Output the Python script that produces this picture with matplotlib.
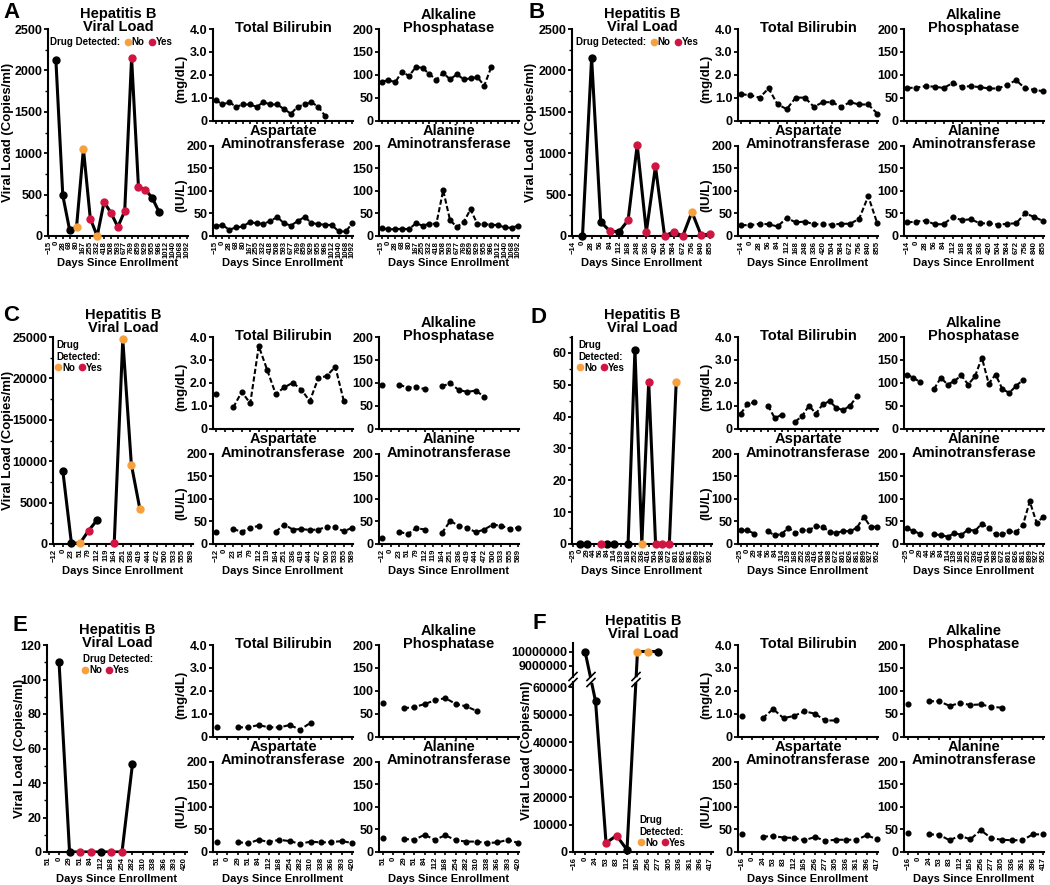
import numpy as np
import matplotlib
matplotlib.use("Agg")
import matplotlib.pyplot as plt
from matplotlib.lines import Line2D
from matplotlib.ticker import MultipleLocator
from matplotlib.transforms import IdentityTransform

plt.rcParams['font.family'] = ['Liberation Sans', 'DejaVu Sans']
plt.rcParams['font.weight'] = 'bold'
plt.rcParams['axes.labelweight'] = 'bold'
plt.rcParams['axes.linewidth'] = 1.5

W, H = 1050, 885
nan = np.nan
ORANGE = '#F8A13C'
RED = '#D11543'
COLORS = {'k': 'black', 'n': ORANGE, 'y': RED}

# ---- Panel A ----
days_a = [-15, 0, 28, 68, 80, 167, 255, 332, 418, 508, 593, 677, 769, 859, 929, 955, 986, 1012, 1040, 1068, 1092]
vl_a = [nan, 2120, 490, 70, 110, 1050, 210, 0, 410, 280, 110, 300, 2150, 590, 560, 460, 290, nan, nan, nan, nan]
drug_a = ['', 'k', 'k', 'k', 'n', 'n', 'y', 'n', 'y', 'y', 'y', 'y', 'y', 'y', 'y', 'k', 'k', '', '', '', '']
bili_a = [0.9, 0.7, 0.8, 0.6, 0.7, 0.7, 0.6, 0.8, 0.7, 0.7, 0.5, 0.3, 0.6, 0.7, 0.8, 0.6, 0.2, nan, nan, nan, nan]
alp_a = [85, 88, 84, 107, 97, 117, 115, 101, 89, 104, 90, 101, 90, 92, 95, 76, 116, nan, nan, nan, nan]
ast_a = [22, 24, 14, 19, 21, 31, 28, 27, 33, 42, 28, 23, 33, 42, 29, 26, 25, 24, 10, 10, 28]
alt_a = [17, 15, 15, 16, 15, 28, 23, 27, 27, 101, 35, 20, 31, 59, 26, 26, 25, 24, 19, 18, 23]

# ---- Panel B ----
days_b = [-14, 0, 28, 56, 84, 112, 168, 248, 336, 420, 504, 584, 672, 756, 840, 855]
vl_b = [nan, 0, 2150, 170, 60, 50, 190, 1100, 50, 840, 0, 50, 0, 290, 10, 25]
drug_b = ['', 'k', 'k', 'k', 'y', 'k', 'y', 'y', 'y', 'y', 'y', 'y', 'y', 'n', 'y', 'y']
bili_b = [1.15, 1.1, 1.0, 1.4, 0.7, 0.5, 1.0, 1.0, 0.6, 0.8, 0.8, 0.6, 0.8, 0.7, 0.7, 0.3]
alp_b = [71, 72, 75, 74, 71, 82, 74, 75, 73, 70, 70, 78, 88, 70, 67, 64]
ast_b = [24, 24, 27, 26, 21, 40, 30, 32, 26, 26, 25, 27, 27, 38, 88, 28]
alt_b = [30, 32, 34, 26, 26, 42, 35, 37, 28, 28, 25, 27, 28, 50, 42, 33]

# ---- Panel C ----
days_c = [-12, 0, 23, 51, 79, 112, 119, 164, 251, 336, 419, 444, 472, 500, 533, 555, 589]
vl_c = [nan, 8800, 100, 100, 1600, 2900, nan, 100, 24700, 9600, 4200, nan, nan, nan, nan, nan, nan]
drug_c = ['', 'k', 'k', 'n', 'y', 'k', '', 'y', 'n', 'n', 'n', '', '', '', '', '', '']
bili_c = [1.5, nan, 0.92, 1.6, 1.1, 3.6, 2.55, 1.5, 1.8, 2.0, 1.7, 1.2, 2.2, 2.3, 2.7, 1.2, nan]
alp_c = [94, nan, 96, 89, 91, 86, nan, 92, 99, 84, 80, 83, 69, nan, nan, nan, nan]
ast_c = [26, nan, 33, 27, 36, 40, nan, 27, 43, 32, 33, 31, 32, 38, 37, 28, 36]
alt_c = [14, nan, 27, 22, 35, 32, nan, 24, 51, 40, 36, 26, 32, 43, 40, 34, 36]

# ---- Panel D ----
days_d = [-25, 0, 29, 44, 56, 84, 114, 139, 168, 252, 336, 416, 504, 588, 672, 801, 826, 861, 899, 927, 952]
vl_d = [nan, 0, 0, nan, 0, 0, 0, nan, 0, 61, 0, 51, 0, 0, 0, 51, nan, nan, nan, nan, nan]
drug_d = ['', 'k', 'k', '', 'y', 'k', 'k', '', 'k', 'k', 'n', 'y', 'y', 'y', 'y', 'n', '', '', '', '', '']
bili_d = [0.65, 1.05, 1.15, nan, 1.0, 0.45, 0.6, nan, 0.3, 0.55, 1.0, 0.65, 1.05, 1.2, 0.9, 0.8, 1.0, 1.4, nan, nan, nan]
alp_d = [118, 111, 101, nan, 86, 111, 96, 104, 116, 96, 114, 155, 98, 118, 86, 78, 93, 106, nan, nan, nan]
ast_d = [30, 30, 23, nan, 28, 19, 22, 36, 24, 30, 31, 39, 38, 27, 24, 29, 28, 36, 60, 38, 38]
alt_d = [35, 29, 22, nan, 21, 20, 16, 24, 20, 32, 29, 45, 35, 21, 21, 28, 26, 42, 94, 47, 60]

# ---- Panel E ----
days_e = [51, 0, 29, 51, 84, 112, 168, 254, 282, 310, 338, 366, 393, 420]
vl_e = [nan, 110, 0, 0, 0, 0, 0, 0, 51, nan, nan, nan, nan, nan]
drug_e = ['', 'k', 'k', 'y', 'y', 'k', 'y', 'y', 'k', '', '', '', '', '']
bili_e = [0.4, nan, 0.4, 0.4, 0.5, 0.4, 0.4, 0.5, 0.3, 0.6, nan, nan, nan, nan]
alp_e = [73, nan, 62, 64, 71, 79, 84, 71, 66, 56, nan, nan, nan, nan]
ast_e = [23, nan, 22, 19, 27, 22, 27, 24, 18, 23, 21, 22, 24, 20]
alt_e = [30, nan, 29, 27, 38, 27, 37, 26, 23, 23, 20, 21, 27, 20]

# ---- Panel F ----
days_f = [-16, 0, 24, 53, 83, 112, 165, 256, 277, 305, 336, 361, 396, 417]
vl_f = [nan, 10000000, 55000, 3300, 6000, 800, 10000000, 10000000, 10000000, nan, nan, nan, nan, nan]
drug_f = ['', 'k', 'k', 'y', 'y', 'k', 'n', 'n', 'k', '', '', '', '', '']
bili_f = [0.9, nan, 0.8, 1.2, 0.8, 0.9, 1.1, 1.0, 0.7, 0.7, nan, nan, nan, nan]
alp_f = [70, nan, 77, 77, 67, 73, 69, 70, 65, 63, nan, nan, nan, nan]
ast_f = [39, nan, 34, 35, 32, 31, 26, 33, 25, 27, 27, 27, 37, 28]
alt_f = [43, nan, 39, 38, 26, 36, 28, 48, 31, 27, 26, 26, 39, 39]

LAB_TITLES = ['Total Bilirubin', 'Alkaline\nPhosphatase',
              'Aspartate\nAminotransferase', 'Alanine\nAminotransferase']

fig = plt.figure(figsize=(W / 100, H / 100), dpi=100)


def add_ax(left, top, width, height):
    ax = fig.add_axes([left / W, 1 - (top + height) / H, width / W, height / H])
    ax.spines['top'].set_visible(False)
    ax.spines['right'].set_visible(False)
    ax.tick_params(axis='y', labelsize=9, length=3, width=1.3, pad=1)
    ax.tick_params(axis='x', length=2.5, width=1.2, pad=1)
    ax.tick_params(which='minor', length=2, width=1.0)
    ax.patch.set_visible(False)
    return ax


def fig_text(x, y, s, **kw):
    fig.text(x / W, 1 - y / H, s, **kw)


def setup_x(ax, days, h, labels=True, lo=-0.38, hi=0.08):
    n = len(days)
    ax.set_xlim(lo, n - 1 + hi)
    ax.set_xticks(np.arange(n))
    if labels:
        ax.set_xticklabels([str(d).replace('-', '\u2212') for d in days],
                           rotation=90, fontsize=5.6)
        ax.set_xlabel('Days Since Enrollment', fontsize=8)
        ax.xaxis.set_label_coords(0.5, -22 / h)
    else:
        ax.set_xticklabels([])


def drug_legend(ax, x, y, title=None):
    h = [Line2D([], [], ls='', marker='o', ms=4.5, color=ORANGE),
         Line2D([], [], ls='', marker='o', ms=4.5, color=RED)]
    labels = ['No', 'Yes']
    kw = dict(loc='upper left', bbox_to_anchor=(x / W, 1 - y / H),
              bbox_transform=fig.transFigure, frameon=False, fontsize=7,
              borderpad=0, borderaxespad=0, handlelength=0.5,
              handletextpad=0.15, columnspacing=0.5, labelspacing=0.1)
    if title is None:
        h = [Line2D([], [], ls='')] + h
        labels = ['Drug Detected:'] + labels
        ax.legend(h, labels, ncol=3, **kw)
    else:
        ax.legend(h, labels, ncol=2, title=title, alignment='left',
                  title_fontproperties={'weight': 'bold', 'size': 7}, **kw)


def draw_labs(xo, yo, days, series):
    x = np.arange(len(days))
    boxes = [(213, 29, 91.5), (379, 29, 91.5), (213, 145.5, 90.5), (379, 145.5, 90.5)]
    for k, (vals, title, (bl, bt, bh)) in enumerate(zip(series, LAB_TITLES, boxes)):
        ax = add_ax(xo + bl, yo + bt, 140, bh)
        ax.plot(x, vals, color='black', lw=1.5, ls=(0, (2.5, 1.2)),
                marker='o', ms=3.4, clip_on=False)
        if k == 0:
            ax.set_ylim(0, 4)
            ax.set_yticks([0, 1, 2, 3, 4])
            ax.set_yticklabels(['0', '1.0', '2.0', '3.0', '4.0'])
        else:
            ax.set_ylim(0, 200)
            ax.set_yticks([0, 50, 100, 150, 200])
        setup_x(ax, days, bh, labels=k >= 2)
        ax.text(0.5, 1 - 6 / bh, title, transform=ax.transAxes, ha='center',
                va='bottom', fontsize=10.5, linespacing=0.92)
    fig_text(xo + 181, yo + 79, '(mg/dL)', rotation=90, ha='center', va='center', fontsize=9.5)
    fig_text(xo + 181, yo + 195, '(IU/L)', rotation=90, ha='center', va='center', fontsize=9.5)


def draw_viral(xo, yo, left, days, vl, drug, ylim, major, minor, title_off):
    ax = add_ax(xo + left, yo + 29, 140, 207)
    x = np.arange(len(days))
    vl = np.array(vl, dtype=float)
    ax.plot(x, vl, color='black', lw=2.2, zorder=2)
    for code, col in COLORS.items():
        sel = [i for i, c in enumerate(drug) if c == code]
        ax.plot(x[sel], vl[sel], ls='', marker='o', ms=5, color=col,
                zorder=3, clip_on=False)
    ax.yaxis.set_minor_locator(MultipleLocator(minor))
    ax.set_yticks(np.arange(0, ylim[1] + 1, major))
    ax.set_ylim(*ylim)
    setup_x(ax, days, 207, lo=-0.15, hi=0.2)
    ax.text(0.5, 1 + title_off / 207, 'Hepatitis B\nViral Load', transform=ax.transAxes,
            ha='center', va='bottom', fontsize=10.5, linespacing=0.92)
    return ax


def letter(x, y, s):
    fig_text(x, y, s, ha='left', va='top', fontsize=16)


# ---- A ----
ax = draw_viral(0, 0, 48, days_a, vl_a, drug_a, (0, 2500), 500, 250, -5)
drug_legend(ax, 44, 37)
fig_text(8, 132, 'Viral Load (Copies/ml)', rotation=90, ha='center', va='center', fontsize=9.5)
draw_labs(0, 0, days_a, [bili_a, alp_a, ast_a, alt_a])
letter(3, 2, 'A')

# ---- B ----
ax = draw_viral(525, 0, 47, days_b, vl_b, drug_b, (0, 2500), 500, 250, -5)
drug_legend(ax, 570, 37)
fig_text(531, 132, 'Viral Load (Copies/ml)', rotation=90, ha='center', va='center', fontsize=9.5)
draw_labs(525, 0, days_b, [bili_b, alp_b, ast_b, alt_b])
letter(528, 2, 'B')

# ---- C ----
ax = draw_viral(0, 308, 53, days_c, vl_c, drug_c, (0, 25000), 5000, 2500, 2)
drug_legend(ax, 56, 340, title='Drug\nDetected:')
fig_text(8, 440, 'Viral Load (Copies/ml)', rotation=90, ha='center', va='center', fontsize=9.5)
draw_labs(0, 308, days_c, [bili_c, alp_c, ast_c, alt_c])
letter(3, 305, 'C')

# ---- D ----
ax = draw_viral(525, 308, 47, days_d, vl_d, drug_d, (0, 65), 10, 5, 2)
drug_legend(ax, 578, 340, title='Drug\nDetected:')
draw_labs(525, 308, days_d, [bili_d, alp_d, ast_d, alt_d])
letter(530, 307, 'D')

# ---- E ----
ax = draw_viral(0, 616, 47, days_e, vl_e, drug_e, (0, 120), 20, 10, -5)
drug_legend(ax, 83, 654, title='Drug Detected:')
fig_text(20, 748, 'Viral Load (Copies/ml)', rotation=90, ha='center', va='center', fontsize=9.5)
draw_labs(0, 616, days_e, [bili_e, alp_e, ast_e, alt_e])
letter(12, 615, 'E')

# ---- F (broken y axis) ----
xo, yo = 525, 616
ax_top = add_ax(xo + 48, yo + 27, 140, 34)
ax_bot = add_ax(xo + 48, yo + 66, 140, 170)
ax_top.spines['bottom'].set_visible(False)
ax_top.tick_params(axis='x', bottom=False, labelbottom=False)
xf = np.arange(len(days_f))
vf = np.array(vl_f, dtype=float)
high = vf > 1e6
for code, col in COLORS.items():
    sel = np.array([c == code for c in drug_f])
    ax_top.plot(xf[sel & high], vf[sel & high], ls='', marker='o', ms=5, color=col, zorder=3)
    ax_bot.plot(xf[sel & ~high], vf[sel & ~high], ls='', marker='o', ms=5, color=col,
                zorder=3, clip_on=False)
ax_top.set_ylim(8.2e6, 10.6e6)
ax_top.set_yticks([9e6, 1e7])
ax_top.set_yticklabels(['9000000', '10000000'])
ax_bot.set_ylim(0, 62000)
ax_bot.set_yticks(np.arange(0, 60001, 10000))
setup_x(ax_top, days_f, 34, labels=False, lo=-0.15, hi=0.2)
setup_x(ax_bot, days_f, 170, lo=-0.15, hi=0.2)
ax_bot.set_xlabel('')
ax_top.text(0.5, 1 + 2 / 34, 'Hepatitis B\nViral Load', transform=ax_top.transAxes,
            ha='center', va='bottom', fontsize=10.5, linespacing=0.92)

# connecting line drawn in display space across the break
pts = []
for xi, v in zip(xf, vf):
    if np.isnan(v):
        pts.append((nan, nan))
    elif v > 1e6:
        pts.append(tuple(ax_top.transData.transform((xi, v))))
    else:
        pts.append(tuple(ax_bot.transData.transform((xi, v))))
pts = np.array(pts)
fig.add_artist(Line2D(pts[:, 0], pts[:, 1], transform=IdentityTransform(),
                      color='black', lw=2.2, zorder=-1))

gap_y = (ax_top.get_position().y0 + ax_bot.get_position().y1) / 2 * H


def break_mark(cx, cy):
    fig.add_artist(Line2D([cx - 6, cx + 6], [cy, cy], transform=IdentityTransform(),
                          color='white', lw=4, zorder=-0.5))
    for dy in (-3, 3):
        fig.add_artist(Line2D([cx - 4, cx + 4], [cy + dy - 4, cy + dy + 4],
                              transform=IdentityTransform(), color='black',
                              lw=1.2, zorder=-0.4))


for p0, p1, h0, h1 in zip(pts[:-1], pts[1:], high[:-1], high[1:]):
    if np.isnan(p0).any() or np.isnan(p1).any() or h0 == h1:
        continue
    t = (gap_y - p0[1]) / (p1[1] - p0[1])
    break_mark(p0[0] + t * (p1[0] - p0[0]), gap_y)
break_mark(ax_bot.get_position().x0 * W, gap_y)

drug_legend(ax_bot, 639, 815, title='Drug\nDetected:')
fig_text(527, 750, 'Viral Load (Copies/ml)', rotation=90, ha='center', va='center', fontsize=9.5)
draw_labs(xo, yo, days_f, [bili_f, alp_f, ast_f, alt_f])
letter(532, 613, 'F')

fig.savefig('out.png', dpi=100)
